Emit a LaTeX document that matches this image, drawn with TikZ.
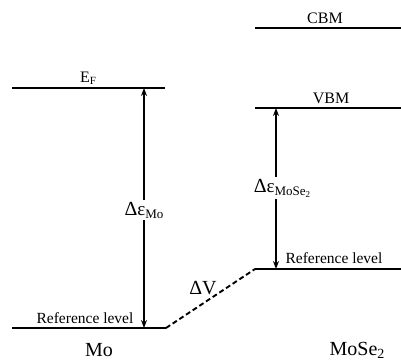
\documentclass[tikz,border=0pt]{standalone}
\usepackage{fontspec}
\setmainfont{Liberation Serif}
\usetikzlibrary{arrows.meta}
\begin{document}
\begin{tikzpicture}[x=1pt,y=-1pt,
  level/.style={line width=1.9pt},
  gap/.style={line width=1.7pt,{Stealth[length=8pt,width=6pt]}-{Stealth[length=8pt,width=6pt]}},
  lbl/.style={inner sep=0pt,font=\fontsize{16}{18}\selectfont},
  big/.style={inner sep=0pt,font=\fontsize{20}{22}\selectfont},
  dlbl/.style={font=\fontsize{20}{22}\selectfont,fill=white,inner sep=2pt}]
\useasboundingbox (0,0) rectangle (401,362);
% levels
\coordinate (efL) at (12,88);
\coordinate (efR) at (165,88);
\coordinate (cbmL) at (255,28);
\coordinate (cbmR) at (401,28);
\coordinate (vbmL) at (255,108);
\coordinate (vbmR) at (401,108);
\coordinate (refL1) at (12,328);
\coordinate (refL2) at (166,328);
\coordinate (refR1) at (255,269);
\coordinate (refR2) at (401,269);
\draw[level] (efL) -- (efR);
\draw[level] (cbmL) -- (cbmR);
\draw[level] (vbmL) -- (vbmR);
\draw[level] (refL1) -- (refL2);
\draw[level] (refR1) -- (refR2);
\draw[line width=1.9pt,dash pattern=on 5pt off 3pt] (refL2) -- (refR1);
% arrows
\coordinate (aT) at (144,88);
\coordinate (aB) at (144,328);
\coordinate (bT) at (276,108);
\coordinate (bB) at (276,269);
\draw[gap] (aB) -- (aT);
\draw[gap] (bB) -- (bT);
\node[dlbl] (dmo) at (144,210) {Δ\fontsize{19}{20}\selectfont ε\raisebox{-0.35ex}{\fontsize{13}{14}\selectfont Mo}};
\node[dlbl] (dmose) at (282,188) {Δ\fontsize{19}{20}\selectfont ε\raisebox{-0.35ex}{\fontsize{13}{14}\selectfont MoSe\raisebox{-0.3ex}{\fontsize{9}{10}\selectfont 2}}};
% labels
\node[lbl] (ef) at (88,78) {E\raisebox{-0.3ex}{\fontsize{11}{12}\selectfont F}};
\node[lbl] (cbm) at (325,18) {CBM};
\node[lbl] (vbm) at (331,98) {VBM};
\node[lbl,font=\fontsize{15.5}{17}\selectfont] (refl) at (85,318) {Reference level};
\node[lbl,font=\fontsize{15.5}{17}\selectfont] (refr) at (334,258) {Reference level};
\node[big] (dv) at (203,288) {ΔV};
\node[big] (mo) at (99,350) {Mo};
\node[big] (mose) at (357,350) {MoSe\raisebox{-0.35ex}{\fontsize{14}{15}\selectfont 2}};
\end{tikzpicture}
\end{document}
